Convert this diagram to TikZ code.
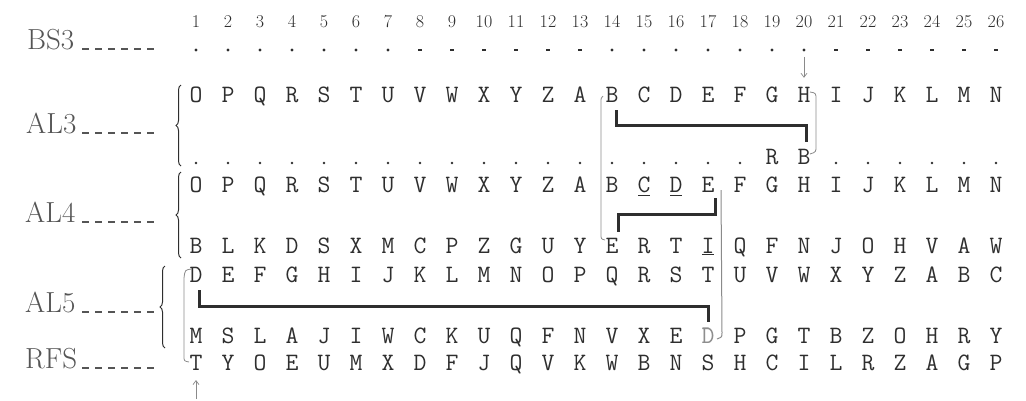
\documentclass[tikz,border=0pt]{standalone}
\usepackage{fontspec}
\usetikzlibrary{arrows.meta, calc, decorations.pathreplacing}

\definecolor{inkdark}{HTML}{2E2E2E}
\definecolor{inkgray}{HTML}{555555}
\definecolor{wiregray}{HTML}{8A8A8A}
\definecolor{fadeink}{HTML}{8E8E8E}

\begin{document}
\begin{tikzpicture}[
    x=1pt, y=-1pt,
    every node/.style={inner sep=0pt, text=inkdark},
    letter/.style={font=\fontsize{25}{25}\selectfont\ttfamily, anchor=base,
        text height=15pt, text depth=0pt},
    colnum/.style={font=\fontsize{18}{18}\selectfont, anchor=base},
    rowlabel/.style={font=\fontsize{29}{29}\selectfont, anchor=base west, text=inkgray},
    leader/.style={draw=inkgray, line width=1.1pt, dash pattern=on 7pt off 6pt},
    bigdot/.style={circle, fill=inkdark, minimum size=3.2pt},
    smalldash/.style={rectangle, fill=inkdark, minimum width=3.5pt, minimum height=1.3pt},
    plug/.style={draw=inkdark, line width=3pt},
    wire/.style={draw=wiregray, line width=0.8pt},
    lbrace/.style={decorate, decoration={brace, amplitude=5pt}, draw=inkdark, line width=1pt},
    pointer/.style={-{Straight Barb[length=4pt, width=6pt]}, draw=wiregray, line width=0.7pt},
    underbar/.style={draw=inkdark, line width=0.9pt}
]
\useasboundingbox (0,0) rectangle (1026,400);

% Column numbers
\foreach \i in {1,...,26}
    \node[colnum] (num-\i) at ({196+32*(\i-1)},27) {\i};

% Row labels and leaders
\coordinate (leadstart) at (82,0);
\coordinate (leadend) at (155,0);
\node[rowlabel] (bs3) at (27,49) {BS3};
\node[rowlabel] (al3) at (26,133) {AL3};
\node[rowlabel] (al4) at (25,222) {AL4};
\node[rowlabel] (al5) at (25,312) {AL5};
\node[rowlabel] (rfs) at (25,368) {RFS};
\foreach \lbl in {bs3, al3, al4, al5, rfs}
    \draw[leader] (\lbl.base east -| leadstart) -- (\lbl.base east -| leadend);

% BS3
\foreach \i in {1,...,7,14,15,...,20}
    \node[bigdot] (bs-\i) at ({196+32*(\i-1)},50) {};
\foreach \i in {8,...,13,21,22,...,26}
    \node[smalldash] (bs-\i) at ({196+32*(\i-1)},50) {};

% AL3
\foreach \ch [count=\i] in {O,P,Q,R,S,T,U,V,W,X,Y,Z,A,B,C,D,E,F,G,H,I,J,K,L,M,N}
    \node[letter] (al3a-\i) at ({196+32*(\i-1)},102) {\ch};
\foreach \i in {1,...,18,21,22,...,26}
    \node[bigdot, minimum size=2.8pt] (dot-\i) at ({196+32*(\i-1)},163) {};
\node[letter] (dot-19) at (772,164) {R};
\node[letter] (dot-20) at (804,164) {B};

% AL4
\foreach \ch [count=\i] in {O,P,Q,R,S,T,U,V,W,X,Y,Z,A,B,C,D,E,F,G,H,I,J,K,L,M,N}
    \node[letter] (al4a-\i) at ({196+32*(\i-1)},192) {\ch};
\foreach \ch [count=\i] in {B,L,K,D,S,X,M,C,P,Z,G,U,Y,E,R,T,I,Q,F,N,J,O,H,V,A,W}
    \node[letter] (al4b-\i) at ({196+32*(\i-1)},253) {\ch};

% AL5
\foreach \ch [count=\i] in {D,E,F,G,H,I,J,K,L,M,N,O,P,Q,R,S,T,U,V,W,X,Y,Z,A,B,C}
    \node[letter] (al5a-\i) at ({196+32*(\i-1)},282) {\ch};
\foreach \ch [count=\i] in {M,S,L,A,J,I,W,C,K,U,Q,F,N,V,X,E,D,P,G,T,B,Z,O,H,R,Y}
    \node[letter] (al5b-\i) at ({196+32*(\i-1)},343) {\ch};
\node[letter, text=fadeink, fill=white] at (al5b-17.base) {D};

% RFS
\foreach \ch [count=\i] in {T,Y,O,E,U,M,X,D,F,J,Q,V,K,W,B,N,S,H,C,I,L,R,Z,A,G,P}
    \node[letter] (rfs-\i) at ({196+32*(\i-1)},370) {\ch};

% Braces
\draw[lbrace] ($(al3a-1.base)+(-15,64)$) -- ($(al3a-1.base)+(-15,-17)$);
\draw[lbrace] ($(al4a-1.base)+(-15,66)$) -- ($(al4a-1.base)+(-15,-20)$);
\draw[lbrace] ($(al5a-1.base)+(-31,66)$) -- ($(al5a-1.base)+(-31,-16)$);

% Underlined letters
\foreach \n in {al4a-15, al4a-16}
    \draw[underbar] ($(\n.base)+(-6,3)$) -- ($(\n.base)+(6,3)$);
\draw[underbar] ($(al4b-17.base)+(-6,1)$) -- ($(al4b-17.base)+(6,1)$);

% Plugboard connections
\draw[plug] ($(al3a-14.base)+(4,8)$) |- ($(dot-20.north)+(2,-23)$) -- ($(dot-20.north)+(2,-7)$);
\draw[plug] ($(al4a-17.base)+(7,6)$) |- ($(al4b-14.north)+(6,-23)$) -- ($(al4b-14.north)+(6,-6)$);
\draw[plug] ($(al5a-1.base)+(3,8)$) |- ($(al5b-17.north)+(0,-21)$) -- ($(al5b-17.north)+(0,-6)$);

% Thin guide lines
\draw[wire] ($(al3a-14.base)+(-9,-6)$) .. controls ($(al3a-14.base)+(-11,-4)$) .. ($(al3a-14.base)+(-11,0)$)
    -- ($(al4b-14.base)+(-11,-19)$) .. controls ($(al4b-14.base)+(-11,-14)$) .. ($(al4b-14.base)+(-7,-13)$);
\draw[wire] ($(al3a-20.base)+(6,-10)$) .. controls ($(al3a-20.base)+(12,-9)$) .. ($(al3a-20.base)+(12,-2)$)
    -- ($(al3a-20.base)+(12,44)$) .. controls ($(al3a-20.base)+(12,50)$) .. ($(al3a-20.base)+(6,52)$);
\draw[wire, line width=1pt] ($(al4a-17.base)+(13,-2)$)
    -- ($(al5b-17.base)+(14,-10)$) .. controls ($(al5b-17.base)+(14,-6)$) .. ($(al5b-17.base)+(9,-4)$);
\draw[wire] ($(al5a-1.base)+(-5,-13)$) .. controls ($(al5a-1.base)+(-11,-12)$) .. ($(al5a-1.base)+(-12,-4)$)
    -- ($(rfs-1.base)+(-12,-14)$) .. controls ($(rfs-1.base)+(-12,-9)$) .. ($(rfs-1.base)+(-7,-8)$);

% Pointers
\coordinate (rfsptr) at (196,399);
\draw[pointer] ($(bs-20.south)+(0,5)$) -- ($(al3a-20.north)+(0,-9)$);
\draw[pointer] (rfsptr) -- ($(rfs-1.base)+(0,10)$);

\end{tikzpicture}
\end{document}
